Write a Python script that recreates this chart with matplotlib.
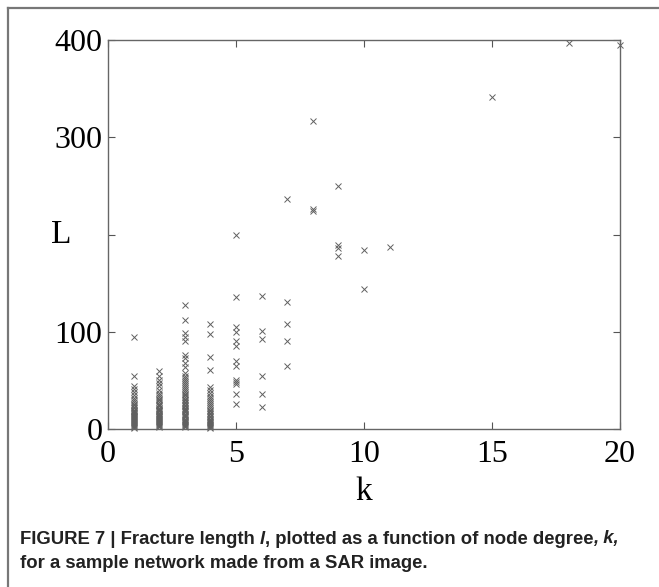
import matplotlib
matplotlib.use("Agg")
import matplotlib.pyplot as plt
from matplotlib.lines import Line2D

# ---- data ----
L_k1 = [95, 54, 44, 41, 38, 35, 32, 30, 28, 26, 25, 23, 22, 20, 19, 18, 17, 16,
        15, 14, 13, 12, 11, 10, 9, 8, 7, 6, 5, 4, 3, 2, 1]
L_k2 = [60, 55, 50, 47, 44, 40, 37, 35, 33, 31, 30, 28, 26, 25, 24, 22, 21, 20,
        19, 18, 16, 15, 14, 13, 12, 11, 10, 9, 8, 7, 6, 5, 4, 3, 2]
L_k3 = [127, 112, 99, 95, 91, 76, 73, 68, 64, 58, 55, 52, 50, 48, 46, 44, 42, 40,
        38, 36, 35, 33, 31, 30, 28, 27, 25, 24, 22, 21, 20, 18, 17, 15, 14, 13,
        12, 10, 9, 8, 7, 6, 5, 4, 3, 2]
L_k4 = [108, 98, 74, 61, 43, 40, 37, 34, 32, 30, 28, 26, 24, 22, 20, 18, 16, 15,
        13, 12, 10, 9, 8, 7, 6, 5, 4, 3, 2, 1]
L_k5 = [200, 136, 105, 100, 90, 85, 70, 65, 50, 48, 46, 36, 26]
L_k6 = [137, 101, 93, 54, 36, 23]
L_k7 = [237, 131, 108, 90, 65]
L_k8 = [317, 226, 224]
L_k9 = [250, 189, 186, 178]
L_k10 = [184, 144]
L_k11 = [187]
L_k15 = [341]
L_k18 = [397]
L_k20 = [395]

groups = [(1, L_k1), (2, L_k2), (3, L_k3), (4, L_k4), (5, L_k5), (6, L_k6),
          (7, L_k7), (8, L_k8), (9, L_k9), (10, L_k10), (11, L_k11),
          (15, L_k15), (18, L_k18), (20, L_k20)]

x_ticks = [0, 5, 10, 15, 20]
y_ticks = [0, 100, 200, 300, 400]
y_tick_labels = ["0", "100", "", "300", "400"]   # the "L" label sits at 200

W, H = 659, 587
fig = plt.figure(figsize=(W / 100, H / 100), dpi=100)
fig.patch.set_facecolor("white")

ax = fig.add_axes([108 / W, (H - 429) / H, (620 - 108) / W, (429 - 40) / H])

ks, Ls = [], []
for k, vals in groups:
    ks.extend([k] * len(vals))
    Ls.extend(vals)
ax.plot(ks, Ls, linestyle="none", marker="x", markersize=3.8,
        markeredgewidth=0.7, color="#606060", clip_on=False)

ax.set_xlim(0, 20)
ax.set_ylim(0, 400)
ax.set_xticks(x_ticks)
ax.set_yticks(y_ticks)
serif = ["Liberation Serif", "DejaVu Serif"]
ax.set_xticklabels([str(v) for v in x_ticks], family=serif, fontsize=23)
ax.set_yticklabels(y_tick_labels, family=serif, fontsize=23)
ax.tick_params(direction="in", length=5, width=0.8, color="#555555",
               top=True, right=True)
ax.tick_params(axis="x", pad=8)
ax.tick_params(axis="y", pad=4)
for s in ax.spines.values():
    s.set_color("#666666")
    s.set_linewidth(1.0)

ax.set_xlabel("k", family=serif, fontsize=24)
ax.xaxis.set_label_coords(0.5, -0.122)
ax.set_ylabel("L", family=serif, fontsize=24, rotation=0,
              va="center", ha="center")
ax.yaxis.set_label_coords(-0.092, 0.5)

# outer frame (top and left lines)
fig.add_artist(Line2D([8 / W, 1.0], [1 - 8 / H, 1 - 8 / H],
                      transform=fig.transFigure, color="#777777", lw=1.6))
fig.add_artist(Line2D([8 / W, 8 / W], [0.0, 1 - 8 / H],
                      transform=fig.transFigure, color="#777777", lw=1.6))

# caption with mixed bold / bold-italic segments
cap_family = ["Liberation Sans", "DejaVu Sans"]
cap_size = 13.3
lines = [
    (539, [("FIGURE 7 | Fracture length ", "normal"), ("l", "italic"),
           (", plotted as a function of node degree", "normal"),
           (", k,", "italic")]),
    (564, [("for a sample network made from a SAR image.", "normal")]),
]
fig.canvas.draw()
renderer = fig.canvas.get_renderer()
for ypix, segs in lines:
    xpix = 20
    for txt, style in segs:
        t = fig.text(xpix / W, 1 - ypix / H, txt, family=cap_family,
                     fontsize=cap_size, fontweight="bold", style=style,
                     va="center", ha="left", color="#222222")
        bb = t.get_window_extent(renderer=renderer)
        xpix += bb.width

fig.savefig("out.png", dpi=100, facecolor="white")
